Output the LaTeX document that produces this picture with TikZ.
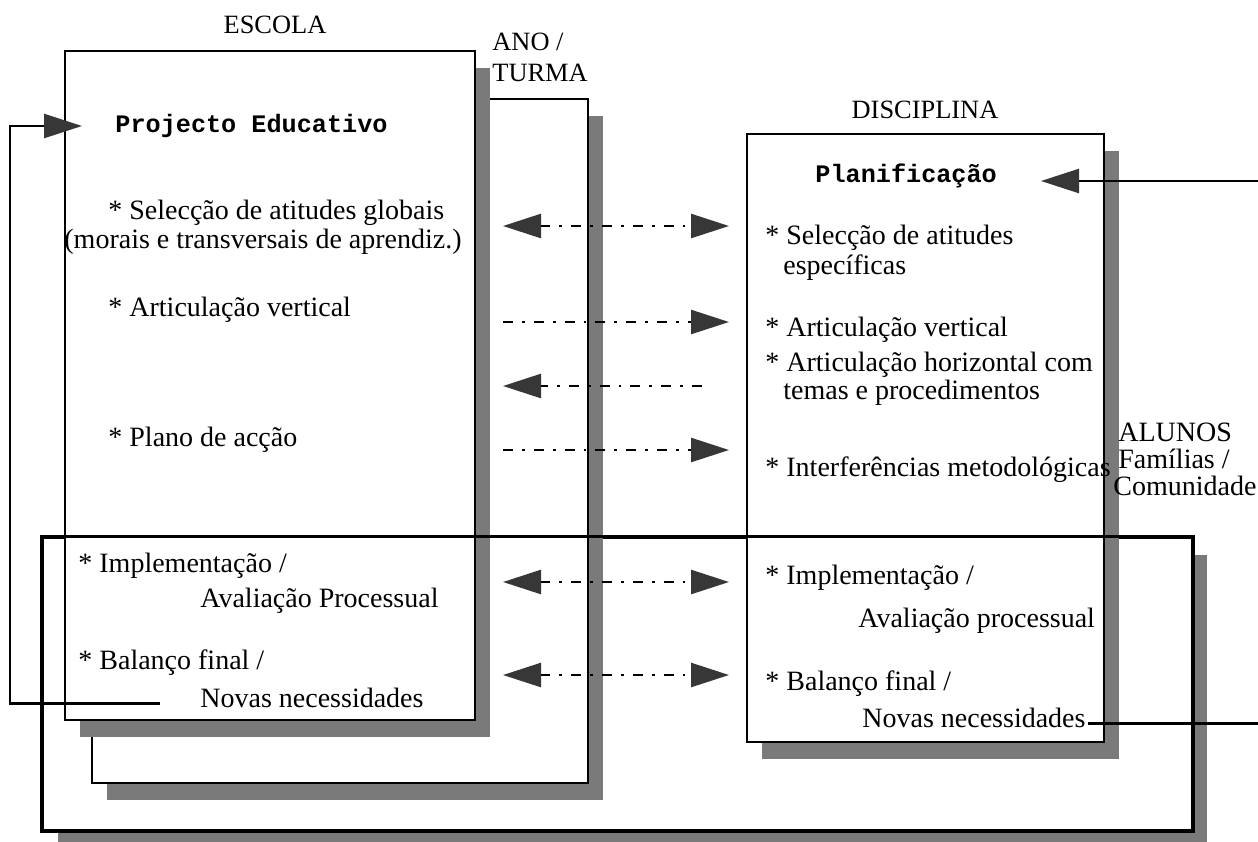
\documentclass[tikz,border=0pt]{standalone}
\usepackage{fontspec}
\setmainfont{Liberation Serif}
\setmonofont{Liberation Mono}
\usetikzlibrary{arrows.meta,positioning,fit,shadows}
\definecolor{shadowgray}{RGB}{122,122,122}
\definecolor{tipgray}{RGB}{55,55,55}

\begin{document}
\begin{tikzpicture}[x=0.5pt, y=-0.5pt, >={Triangle[length=19pt, width=12pt, color=tipgray]},
	boxNode/.style={draw=black, line width=1.3pt, fill=white, inner sep=0pt},
	boxShadow/.style={general shadow={fill=shadowgray, shadow xshift=7.5pt, shadow yshift=-8.5pt}},
	itemNode/.style={anchor=west, inner sep=0pt, font=\fontsize{14}{16}\selectfont},
	headNode/.style={anchor=west, inner sep=0pt, font=\fontsize{12.6}{15}\selectfont\ttfamily\bfseries},
	labelNode/.style={inner sep=0pt, font=\fontsize{13.2}{15}\selectfont},
	linkLine/.style={line width=1.3pt, dash pattern=on 5pt off 4.5pt on 1.4pt off 4.5pt},
	backLine/.style={line width=1.3pt}
	]
	\useasboundingbox[fill=white] (0,0) rectangle (1258,841);
	
	\node[boxNode, boxShadow, fit={(43,538) (1192,830)}] (alunos) {};
	\node[boxNode, boxShadow, fit={(92,99) (588,783)}] (turma) {};
	\node[boxNode, boxShadow, fit={(65,51) (475,720)}] (escola) {};
	\node[boxNode, boxShadow, fit={(747,134) (1104,742)}] (disciplina) {};
	\draw[backLine] (alunos.north west) rectangle (alunos.south east);
	
	\node[labelNode] (escolaLbl) at (275,25) {ESCOLA};
	\node[labelNode, anchor=west] (anoLbl) at (492,42) {ANO /};
	\node[labelNode, anchor=west] (turmaLbl) at (492,73) {TURMA};
	\node[labelNode] (disciplinaLbl) at (925,110) {DISCIPLINA};
	\node[itemNode] (alunosLbl) at (1118,432) {ALUNOS};
	\node[itemNode] (familiasLbl) at (1118,459) {Famílias /};
	\node[itemNode] (comunidadeLbl) at (1113,486) {Comunidade};
	
	\node[headNode] (projecto) at (115,126) {Projecto Educativo};
	\node[itemNode] (selG) at (108,213) {* Selecção de atitudes globais};
	\node[itemNode] (selGb) at (64,242) {(morais e transversais de aprendiz.)};
	\node[itemNode] (artL) at (108,310) {* Articulação vertical};
	\node[itemNode] (plano) at (108,440) {* Plano de acção};
	\node[itemNode] (implL) at (78,566) {* Implementação /};
	\node[itemNode] (avalL) at (200,601) {Avaliação Processual};
	\node[itemNode] (balL) at (78,663) {* Balanço final /};
	\node[itemNode] (novasL) at (200,698) {Novas necessidades};
	
	\node[headNode] (planif) at (815,176) {Planificação};
	\node[itemNode] (selE) at (765,238) {* Selecção de atitudes};
	\node[itemNode] (selEb) at (783,268) {específicas};
	\node[itemNode] (artV) at (765,330) {* Articulação vertical};
	\node[itemNode] (artH) at (765,365) {* Articulação horizontal com};
	\node[itemNode] (artHb) at (783,393) {temas e procedimentos};
	\node[itemNode] (interf) at (765,470) {* Interferências metodológicas};
	\node[itemNode] (implR) at (765,578) {* Implementação /};
	\node[itemNode] (avalR) at (858,621) {Avaliação processual};
	\node[itemNode] (balR) at (765,684) {* Balanço final /};
	\node[itemNode] (novasR) at (862,718) {Novas necessidades};
	
	\coordinate (a1) at (503,226); \coordinate (b1) at (729,226);
	\coordinate (a2) at (503,322); \coordinate (b2) at (729,322);
	\coordinate (a3) at (503,386); \coordinate (b3) at (702,386);
	\coordinate (a4) at (503,450); \coordinate (b4) at (729,450);
	\coordinate (a5) at (503,582); \coordinate (b5) at (729,582);
	\coordinate (a6) at (503,675); \coordinate (b6) at (729,675);
	\coordinate (backL) at (10,400);
	\coordinate (backR) at (1300,400);
	\coordinate (tipL) at (82,126);
	\coordinate (tipR) at (1041,181);
	
	\draw[linkLine, <->] (a1) -- (b1);
	\draw[linkLine, ->] (a2) -- (b2);
	\draw[linkLine, ->] (b3) -- (a3);
	\draw[linkLine, ->] (a4) -- (b4);
	\draw[linkLine, <->] (a5) -- (b5);
	\draw[linkLine, <->] (a6) -- (b6);
	\draw[backLine, ->] ([xshift=-20pt,yshift=2pt]novasL.base west) -| (backL) |- (tipL);
	\draw[backLine, ->] ([xshift=1pt,yshift=2pt]novasR.base east) -| (backR) |- (tipR);
\end{tikzpicture}
\end{document}
